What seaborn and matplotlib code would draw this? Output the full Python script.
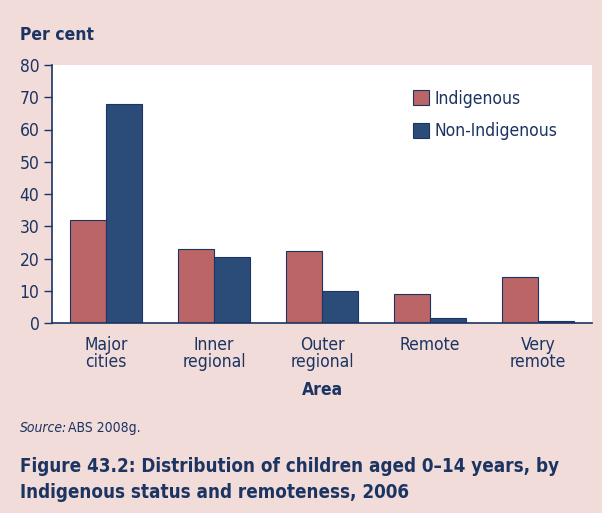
import pandas as pd
import seaborn as sns
import matplotlib.pyplot as plt

# Data
areas = ["Major\ncities", "Inner\nregional", "Outer\nregional", "Remote", "Very\nremote"]
indigenous = [31.8, 22.9, 22.4, 9.0, 14.2]
non_indigenous = [67.8, 20.6, 9.8, 1.5, 0.5]
groups = ["Indigenous", "Non-Indigenous"]
yticks = [0, 10, 20, 30, 40, 50, 60, 70, 80]

NAVY = "#1b3461"
PINK_BG = "#f2dcda"
palette = {"Indigenous": "#bc6567", "Non-Indigenous": "#2b4c79"}

df = pd.DataFrame({
    "Area": areas * 2,
    "Group": [groups[0]] * len(areas) + [groups[1]] * len(areas),
    "Per cent": indigenous + non_indigenous,
})

sns.set_style("white")
plt.rcParams["font.family"] = ["DejaVu Sans"]
plt.rcParams["font.stretch"] = "condensed"
plt.rcParams["text.color"] = NAVY
plt.rcParams["axes.labelcolor"] = NAVY
plt.rcParams["xtick.color"] = NAVY
plt.rcParams["ytick.color"] = NAVY

fig = plt.figure(figsize=(6.02, 5.13), dpi=100, facecolor=PINK_BG)
W, H = 602, 513
ax = fig.add_axes([52 / W, 1 - 323 / H, (592 - 52) / W, (323 - 65) / H])
ax.set_facecolor("white")

sns.barplot(data=df, x="Area", y="Per cent", hue="Group", order=areas,
            hue_order=groups, palette=palette, width=0.667, saturation=1,
            edgecolor=NAVY, linewidth=0.8, ax=ax)

ax.set_xlim(-0.5, 4.5)
ax.set_ylim(0, 80)
ax.set_yticks(yticks)
ax.set_yticklabels([str(t) for t in yticks], fontsize=12.5)
ax.tick_params(axis="y", direction="out", length=6, width=1, color=NAVY, pad=3, left=True)
ax.tick_params(axis="x", length=0, pad=9, labelsize=12.5)
for lbl in ax.get_xticklabels():
    lbl.set_linespacing(0.95)

for side in ["top", "right"]:
    ax.spines[side].set_visible(False)
for side in ["left", "bottom"]:
    ax.spines[side].set_color(NAVY)
    ax.spines[side].set_linewidth(1.2)

ax.set_ylabel("")
ax.set_xlabel("Area", fontsize=12.5, fontweight="bold", labelpad=7)

leg = ax.legend(loc="upper left", bbox_to_anchor=(0.64, 0.965), frameon=False,
                fontsize=12.5, handlelength=0.9, handleheight=0.9,
                handletextpad=0.3, labelspacing=0.85)
for h in leg.legend_handles:
    h.set_edgecolor(NAVY)

fig.text(20 / W, 1 - 35 / H, "Per cent", fontsize=12.5, fontweight="bold", va="center")
fig.text(20 / W, 1 - 428 / H, "Source:", fontsize=10, style="italic", va="center")
fig.text(68 / W, 1 - 428 / H, "ABS 2008g.", fontsize=10, va="center")
fig.text(20 / W, 1 - 466 / H, "Figure 43.2: Distribution of children aged 0\u201314 years, by",
         fontsize=13.5, fontweight="bold", va="center")
fig.text(20 / W, 1 - 493 / H, "Indigenous status and remoteness, 2006",
         fontsize=13.5, fontweight="bold", va="center")

fig.savefig("out.png", dpi=100, facecolor=PINK_BG)
